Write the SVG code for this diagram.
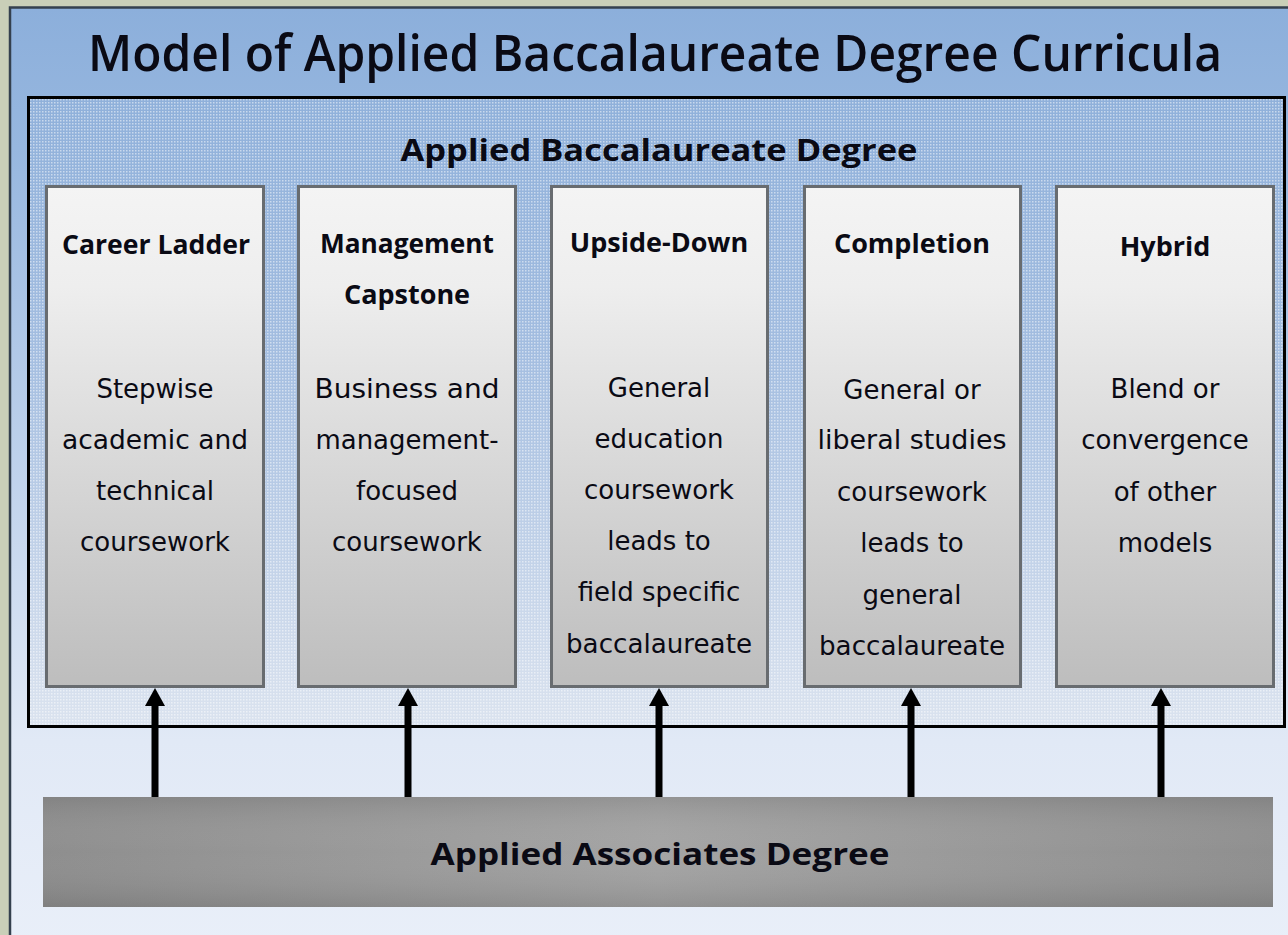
<svg xmlns="http://www.w3.org/2000/svg" width="1288" height="935" viewBox="0 0 1288 935">
<defs>
  <linearGradient id="gOuter" x1="0" y1="0" x2="0" y2="1">
    <stop offset="0" stop-color="#8cafdb"/>
    <stop offset="0.15" stop-color="#97b7df"/>
    <stop offset="0.78" stop-color="#e1e9f6"/>
    <stop offset="1" stop-color="#e9eff9"/>
  </linearGradient>
  <linearGradient id="gInner" x1="0" y1="0" x2="0" y2="1">
    <stop offset="0" stop-color="#8fb0da"/>
    <stop offset="0.4" stop-color="#a3bde0"/>
    <stop offset="1" stop-color="#dbe3ef"/>
  </linearGradient>
  <pattern id="dots" width="3" height="3" patternUnits="userSpaceOnUse">
    <rect x="0" y="0" width="1.5" height="1.5" fill="#ffffff" fill-opacity="0.5"/>
  </pattern>
  <linearGradient id="gCol" x1="0" y1="0" x2="0" y2="1">
    <stop offset="0" stop-color="#f4f4f4"/>
    <stop offset="0.2" stop-color="#eeeeee"/>
    <stop offset="1" stop-color="#bdbdbd"/>
  </linearGradient>
  <linearGradient id="gBarH" x1="0" y1="0" x2="1" y2="0">
    <stop offset="0" stop-color="#848484"/>
    <stop offset="0.5" stop-color="#9c9c9c"/>
    <stop offset="1" stop-color="#858585"/>
  </linearGradient>
  <linearGradient id="gBarV" x1="0" y1="0" x2="0" y2="1">
    <stop offset="0" stop-color="#808080" stop-opacity="0.3"/>
    <stop offset="0.5" stop-color="#ffffff" stop-opacity="0.08"/>
    <stop offset="1" stop-color="#707070" stop-opacity="0.25"/>
  </linearGradient>
</defs>
<style>
  text { font-family: "DejaVu Sans", "Liberation Sans", sans-serif; fill: #0a0a14; text-anchor: middle; }
  .title { font-family: "Open Sans", "DejaVu Sans", sans-serif; font-size: 50px; font-weight: 600; }
  .sub { font-family: "Open Sans", "DejaVu Sans", sans-serif; font-size: 31px; font-weight: 700; }
  .colt { font-family: "Open Sans", "DejaVu Sans", sans-serif; font-size: 27px; font-weight: 700; }
  .body { font-size: 26px; }
  .col { fill: url(#gCol); stroke: #686c70; stroke-width: 3; }
  .shaft { stroke: #000; stroke-width: 7; fill: none; }
  .head { fill: #000; }
</style>

<rect x="0" y="0" width="1288" height="935" fill="#c9cfb8"/>
<g id="frame">
  <rect x="10" y="7.5" width="1290" height="940" fill="url(#gOuter)" stroke="#34404e" stroke-width="2.5"/>
  <text class="title" x="655" y="71" textLength="1134" lengthAdjust="spacingAndGlyphs">Model of Applied Baccalaureate Degree Curricula</text>
</g>

<g id="baccalaureate">
  <rect x="28.5" y="97.5" width="1256" height="629" fill="url(#gInner)" stroke="#000" stroke-width="3"/>
  <rect x="30" y="99" width="1253" height="626" fill="url(#dots)"/>
  <text class="sub" x="659" y="161" textLength="517" lengthAdjust="spacingAndGlyphs">Applied Baccalaureate Degree</text>
</g>

<g id="career-ladder">
  <rect class="col" x="46.5" y="186.5" width="217" height="500"/>
  <text class="colt" x="156" y="254" textLength="188" lengthAdjust="spacingAndGlyphs">Career Ladder</text>
  <text class="body" x="155" y="398">Stepwise</text>
  <text class="body" x="155" y="449" textLength="186" lengthAdjust="spacingAndGlyphs">academic and</text>
  <text class="body" x="155" y="500">technical</text>
  <text class="body" x="155" y="551">coursework</text>
</g>

<g id="management-capstone">
  <rect class="col" x="298.5" y="186.5" width="217" height="500"/>
  <text class="colt" x="407" y="253" textLength="174" lengthAdjust="spacingAndGlyphs">Management</text>
  <text class="colt" x="407" y="304">Capstone</text>
  <text class="body" x="407" y="398" textLength="185" lengthAdjust="spacingAndGlyphs">Business and</text>
  <text class="body" x="407" y="449" textLength="183" lengthAdjust="spacingAndGlyphs">management-</text>
  <text class="body" x="407" y="500">focused</text>
  <text class="body" x="407" y="551">coursework</text>
</g>

<g id="upside-down">
  <rect class="col" x="551.5" y="186.5" width="216" height="500"/>
  <text class="colt" x="659" y="252">Upside-Down</text>
  <text class="body" x="659" y="397">General</text>
  <text class="body" x="659" y="448">education</text>
  <text class="body" x="659" y="499">coursework</text>
  <text class="body" x="659" y="550">leads to</text>
  <text class="body" x="659" y="601">field specific</text>
  <text class="body" x="659" y="653" textLength="186" lengthAdjust="spacingAndGlyphs">baccalaureate</text>
</g>

<g id="completion">
  <rect class="col" x="804.5" y="186.5" width="216" height="500"/>
  <text class="colt" x="912" y="253">Completion</text>
  <text class="body" x="912" y="399">General or</text>
  <text class="body" x="912" y="449" textLength="189" lengthAdjust="spacingAndGlyphs">liberal studies</text>
  <text class="body" x="912" y="501">coursework</text>
  <text class="body" x="912" y="552">leads to</text>
  <text class="body" x="912" y="604">general</text>
  <text class="body" x="912" y="655" textLength="186" lengthAdjust="spacingAndGlyphs">baccalaureate</text>
</g>

<g id="hybrid">
  <rect class="col" x="1056.5" y="186.5" width="217" height="500"/>
  <text class="colt" x="1165" y="256">Hybrid</text>
  <text class="body" x="1165" y="398">Blend or</text>
  <text class="body" x="1165" y="449">convergence</text>
  <text class="body" x="1165" y="501">of other</text>
  <text class="body" x="1165" y="552">models</text>
</g>

<g id="associates">
  <rect x="43" y="797" width="1230" height="110" fill="url(#gBarH)"/>
  <rect x="43" y="797" width="1230" height="110" fill="url(#gBarV)"/>
  <text class="sub" x="660" y="865" textLength="459" lengthAdjust="spacingAndGlyphs">Applied Associates Degree</text>
</g>

<g id="connectors">
  <line class="shaft" x1="155" y1="797" x2="155" y2="703"/>
  <polygon class="head" points="155,688 145,706 165,706"/>
  <line class="shaft" x1="408" y1="797" x2="408" y2="703"/>
  <polygon class="head" points="408,688 398,706 418,706"/>
  <line class="shaft" x1="659" y1="797" x2="659" y2="703"/>
  <polygon class="head" points="659,688 649,706 669,706"/>
  <line class="shaft" x1="911" y1="797" x2="911" y2="703"/>
  <polygon class="head" points="911,688 901,706 921,706"/>
  <line class="shaft" x1="1161" y1="797" x2="1161" y2="703"/>
  <polygon class="head" points="1161,688 1151,706 1171,706"/>
</g>
</svg>
